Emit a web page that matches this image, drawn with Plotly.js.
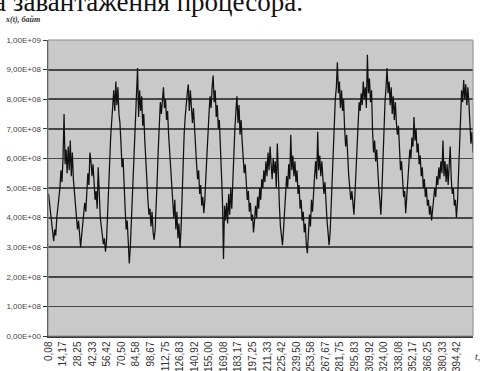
<!DOCTYPE html>
<html>
<head>
<meta charset="utf-8">
<script src="https://cdn.plot.ly/plotly-3.0.1.min.js"></script>
<style>html,body{margin:0;padding:0;background:#fff;}#chart{width:480px;height:371px;}</style>
</head>
<body>
<div id="chart"></div>
<script>
// Time axis tick labels (hours), as printed under the chart
const tickValues = [0.08,14.17,28.25,42.33,56.42,70.50,84.58,98.67,112.75,126.83,140.92,155.00,169.08,183.17,197.25,211.33,225.42,239.50,253.58,267.67,281.75,295.83,309.92,324.00,338.08,352.17,366.25,380.33,394.42];
const tickLabels = ["0,08","14,17","28,25","42,33","56,42","70,50","84,58","98,67","112,75","126,83","140,92","155,00","169,08","183,17","197,25","211,33","225,42","239,50","253,58","267,67","281,75","295,83","309,92","324,00","338,08","352,17","366,25","380,33","394,42"];

// Y axis ticks (values in units of 1e8 bytes) and their printed labels
const yTickValues = [0,1,2,3,4,5,6,7,8,9,10];
const yTickLabels = ["0,00E+00","1,00E+08","2,00E+08","3,00E+08","4,00E+08","5,00E+08","6,00E+08","7,00E+08","8,00E+08","9,00E+08","1,00E+09"];

// Sampling of the read-off series: one value per hour, starting at t = 0
const tStart = 0;
const tStep = 1;

// x(t), in units of 1e8 bytes
const load = [
 4.8,4.5,4.1,3.8,3.5,3.2,3.6,3.4,4.0,4.3,
 4.6,5.0,5.6,5.2,6.0,7.5,5.8,6.3,5.5,6.4,
 5.6,6.6,5.4,6.2,5.3,4.8,4.4,4.0,3.6,3.9,
 3.3,3.0,3.4,3.7,4.0,4.5,4.2,5.0,5.5,5.1,
 6.2,5.9,5.4,5.8,5.0,4.6,4.9,4.3,5.7,4.6,
 4.0,3.7,3.4,3.1,3.3,2.85,3.2,3.9,4.8,5.8,
 6.7,7.4,8.0,8.3,7.6,8.6,7.8,8.4,7.5,7.2,
 6.5,5.7,6.0,4.9,4.3,3.6,3.9,3.2,2.45,3.0,
 3.9,4.8,5.9,6.8,7.6,8.0,9.05,7.4,8.3,7.6,
 8.1,7.1,7.5,6.6,5.8,5.0,4.6,4.1,4.3,3.7,
 4.2,3.5,3.25,3.6,4.3,5.3,6.3,7.2,7.9,7.5,
 8.2,8.4,7.7,8.0,7.3,7.6,6.8,6.2,5.6,5.0,
 4.4,4.0,4.6,3.6,4.2,3.3,3.8,2.97,3.6,4.8,
 5.9,6.8,7.4,7.9,8.2,8.5,7.6,8.3,7.8,7.2,
 7.7,6.9,6.3,5.8,5.3,5.6,4.8,5.1,4.4,4.7,
 4.15,4.6,5.4,6.3,7.2,7.5,8.1,7.7,8.4,8.8,
 7.9,8.3,7.4,7.8,7.0,7.3,6.4,5.6,4.6,2.6,
 4.4,3.9,4.5,3.8,4.8,4.1,5.0,4.3,5.4,6.2,
 7.0,7.6,8.1,7.2,7.8,6.8,7.3,6.6,6.0,5.5,
 5.8,5.0,4.6,4.9,4.2,4.5,3.9,4.1,3.5,3.9,
 4.4,4.0,4.7,4.3,5.0,4.6,5.3,5.0,5.6,5.2,
 5.9,5.4,6.2,5.6,6.4,5.8,5.3,6.0,5.5,5.9,
 5.0,6.5,5.2,4.4,3.7,3.3,3.07,3.6,4.2,4.9,
 5.4,5.0,5.8,5.3,6.8,5.6,6.1,5.4,5.9,5.2,
 5.6,4.8,5.1,4.3,4.6,3.9,4.2,3.5,3.8,3.1,
 2.8,3.4,4.1,3.7,4.6,4.2,5.0,5.4,5.9,5.3,
 6.9,5.6,6.1,5.4,5.9,5.1,4.8,5.2,4.4,3.9,
 3.5,3.07,3.5,4.4,5.5,6.6,7.4,8.0,8.4,9.25,
 8.2,8.6,7.7,8.3,7.6,8.0,7.0,6.4,6.8,5.9,
 5.4,5.0,4.6,4.9,4.3,4.1,4.8,5.7,6.5,7.3,
 7.9,7.6,8.2,7.8,8.6,8.0,8.4,7.7,9.5,8.2,
 8.7,7.9,8.3,6.9,6.2,6.6,5.9,6.3,5.5,5.0,
 4.6,4.1,4.9,6.0,7.0,7.9,8.4,9.05,8.2,8.6,
 7.8,8.4,7.5,8.1,7.3,7.9,7.2,6.8,7.1,6.2,
 5.6,5.9,5.1,4.7,4.9,4.15,4.7,5.2,5.8,6.3,
 6.0,6.7,6.4,7.4,6.6,7.0,6.2,6.5,5.8,6.1,
 5.4,5.7,5.0,5.3,4.7,5.0,4.4,4.6,4.1,4.4,
 3.9,4.3,4.6,5.0,4.7,5.4,5.1,5.7,5.3,5.9,
 5.5,6.6,5.4,5.9,5.2,5.8,5.1,5.6,6.4,5.3,
 4.8,5.0,4.4,4.6,4.0,4.5,5.6,6.7,7.6,8.3,
 7.9,8.65,8.0,8.5,7.8,8.4,7.9,7.2,6.5,6.9,
 6.2
];

const times = load.map((_, i) => tStart + i * tStep);

const trace = {
  x: times,
  y: load,
  type: 'scatter',
  mode: 'lines',
  line: {color: '#111111', width: 1.25},
  hoverinfo: 'skip'
};

const layout = {
  width: 480,
  height: 371,
  margin: {l: 48, r: 7, t: 40, b: 35},
  paper_bgcolor: '#ffffff',
  plot_bgcolor: '#c9c9c9',
  showlegend: false,
  xaxis: {
    range: [-0.5, 410],
    tickmode: 'array',
    tickvals: tickValues,
    ticktext: tickLabels,
    tickangle: -90,
    tickfont: {family: 'Liberation Sans, Arial, sans-serif', size: 10, color: '#333'},
    showgrid: false,
    zeroline: false,
    showline: true,
    linecolor: '#3a3a3a',
    linewidth: 1.5,
    ticks: '',
    fixedrange: true
  },
  yaxis: {
    range: [0, 10],
    tickmode: 'array',
    tickvals: yTickValues,
    ticktext: yTickLabels,
    tickfont: {family: 'Liberation Sans, Arial, sans-serif', size: 8, color: '#444'},
    showgrid: true,
    gridcolor: '#474747',
    gridwidth: 1.8,
    zeroline: false,
    showline: true,
    linecolor: '#3a3a3a',
    linewidth: 1.5,
    ticks: 'outside',
    ticklen: 4,
    tickcolor: '#3a3a3a',
    fixedrange: true
  },
  shapes: [
    {type: 'rect', xref: 'paper', yref: 'paper', x0: 0, x1: 1, y0: 0, y1: 1,
     line: {color: '#8a8a8a', width: 1}, fillcolor: 'rgba(0,0,0,0)', layer: 'above'}
  ],
  annotations: [
    {text: 'а завантаження процесора.', xref: 'paper', yref: 'paper',
     x: 0.605, y: 1.128, xanchor: 'right', yanchor: 'middle', showarrow: false,
     font: {family: 'Liberation Serif, Times New Roman, serif', size: 27, color: '#111'}},
    {text: '<b><i>x(t), байт</i></b>', xref: 'paper', yref: 'paper',
     x: -0.059, y: 1.068, xanchor: 'center', yanchor: 'middle', showarrow: false,
     font: {family: 'Liberation Serif, Times New Roman, serif', size: 8, color: '#333'}},
    {text: '<i>t,</i>', xref: 'paper', yref: 'paper',
     x: 1.01, y: -0.07, xanchor: 'center', yanchor: 'middle', showarrow: false,
     font: {family: 'Liberation Serif, Times New Roman, serif', size: 10, color: '#333'}}
  ]
};

Plotly.newPlot('chart', [trace], layout, {displayModeBar: false, staticPlot: true});
</script>
</body>
</html>
